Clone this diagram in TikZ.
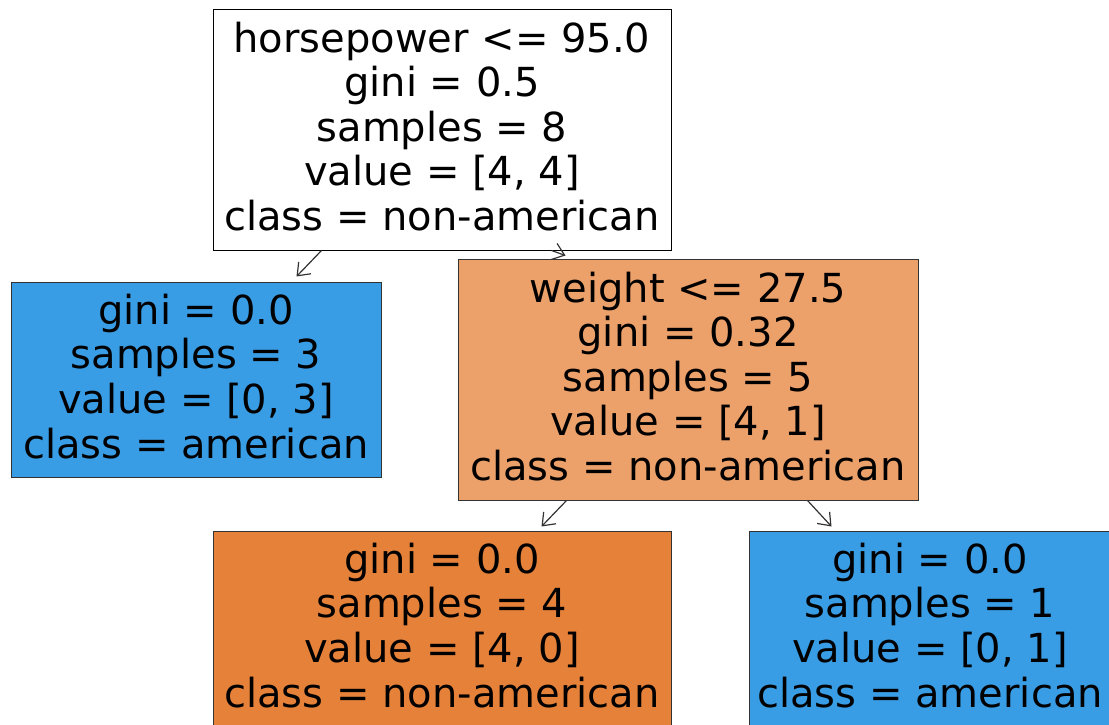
\documentclass[tikz,border=0pt]{standalone}
\usepackage{fontspec}
\setmainfont{DejaVu Sans}
\usetikzlibrary{arrows.meta,calc}
\definecolor{skblue}{HTML}{399DE5}
\definecolor{skorange}{HTML}{E58139}
\definecolor{sklight}{HTML}{ECA06A}
\definecolor{edgegray}{HTML}{333333}
\newcommand{\lastpad}{\rule[-7pt]{0pt}{7pt}}
\tikzset{
  treebox/.style={draw=edgegray, line width=1pt, rectangle, inner sep=0pt, align=center,
    font=\fontsize{40}{44.6}\selectfont},
  treearrow/.style={draw=edgegray, line width=1.2pt,
    -{Straight Barb[length=11pt,width=17pt,line width=1.2pt]}},
}
\begin{document}
\begin{tikzpicture}[x=1pt,y=-1pt]
\useasboundingbox (0,0) rectangle (1109,724);
\clip (0,0) rectangle (1109,724);
\fill[white] (0,0) rectangle (1109,724);
\node[treebox, fill=white, draw=black, minimum width=458pt, minimum height=241pt] (root) at (442,129.5)
  {horsepower <= 95.0\\gini = 0.5\\samples = 8\\value = [4, 4]\\class = non-american\lastpad};
\node[treebox, fill=skblue, minimum width=370pt, minimum height=195pt] (left) at (196,379.5)
  {gini = 0.0\\samples = 3\\value = [0, 3]\\class = american\lastpad};
\node[treebox, fill=sklight, minimum width=460pt, minimum height=241pt] (right) at (688,379.5)
  {weight <= 27.5\\gini = 0.32\\samples = 5\\value = [4, 1]\\class = non-american\lastpad};
\node[treebox, fill=skorange, minimum width=458pt, minimum height=195pt] (bl) at (442,628.5)
  {gini = 0.0\\samples = 4\\value = [4, 0]\\class = non-american\lastpad};
\node[treebox, fill=skblue, minimum width=362pt, minimum height=195pt] (br) at (930,628.5)
  {gini = 0.0\\samples = 1\\value = [0, 1]\\class = american\lastpad};
\draw[treearrow] ($(root.south west)+(109,0)$) -- ($(left.north west)+(286,-5)$);
\draw[treearrow] ($(root.south west)+(339,0)$) -- ($(right.north west)+(108,-3)$);
\draw[treearrow] ($(right.south west)+(109,0)$) -- ($(bl.north west)+(329,-4)$);
\draw[treearrow] ($(right.south west)+(350,0)$) -- ($(br.north west)+(83,-4)$);
\end{tikzpicture}
\end{document}
